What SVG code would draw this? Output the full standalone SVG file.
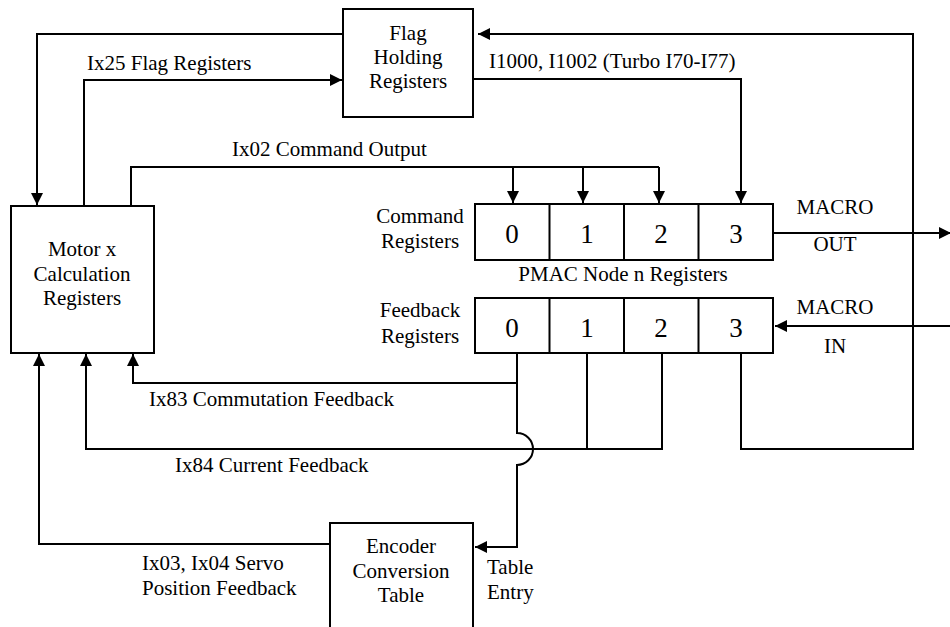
<svg xmlns="http://www.w3.org/2000/svg" width="950" height="627" viewBox="0 0 950 627">
<style>
  .box { fill: #fff; stroke: #000; stroke-width: 2; }
  .ln { fill: none; stroke: #000; stroke-width: 2; }
  .arr { marker-end: url(#ah); }
  text { font-family: "Liberation Serif", "Times New Roman", serif; font-size: 21px; fill: #000; }
  .c { text-anchor: middle; }
  .big { font-size: 27px; text-anchor: middle; }
</style>
<defs>
  <marker id="ah" viewBox="0 0 12 12" refX="12" refY="6" markerWidth="12" markerHeight="12" markerUnits="userSpaceOnUse" orient="auto">
    <path d="M0,0 L12,6 L0,12 z" fill="#000"/>
  </marker>
</defs>
<rect width="950" height="627" fill="#fff"/>

<g id="connectors">
  <path class="ln arr" d="M343,34 H37 V205"/>
  <path class="ln arr" d="M84,206 V80 H342"/>
  <path class="ln" d="M131,206 V167 H659"/>
  <path class="ln arr" d="M513,167 V203"/>
  <path class="ln arr" d="M583,167 V203"/>
  <path class="ln arr" d="M659,167 V203"/>
  <path class="ln arr" d="M473,79 H741 V203"/>
  <path class="ln arr" d="M741,353 V449 H913 V34 H478"/>
  <path class="ln arr" d="M773,233 H951"/>
  <path class="ln arr" d="M951,326 H775"/>
  <path class="ln arr" d="M517,353 V383 H133 V354"/>
  <path class="ln arr" d="M517,383 V433 A16,16 0 0 1 517,465 V547 H475"/>
  <path class="ln" d="M587,353 V449"/>
  <path class="ln arr" d="M662,353 V449 H86 V354"/>
  <path class="ln arr" d="M330,544 H39 V354"/>
</g>

<g id="flag">
  <rect class="box" x="343" y="9" width="130" height="108"/>
  <text class="c" x="408" y="40">Flag</text>
  <text class="c" x="408" y="64">Holding</text>
  <text class="c" x="408" y="88">Registers</text>
</g>

<g id="motor">
  <rect class="box" x="11" y="206" width="143" height="147"/>
  <text class="c" x="82" y="256">Motor x</text>
  <text class="c" x="82" y="281">Calculation</text>
  <text class="c" x="82" y="305">Registers</text>
</g>

<g id="command-registers">
  <rect class="box" x="475" y="204" width="298" height="56"/>
  <path class="ln" d="M549.5,204 V260 M624,204 V260 M698.5,204 V260"/>
  <text class="big" x="512" y="243">0</text>
  <text class="big" x="587" y="243">1</text>
  <text class="big" x="661" y="243">2</text>
  <text class="big" x="736" y="243">3</text>
</g>

<g id="feedback-registers">
  <rect class="box" x="475" y="298" width="298" height="55"/>
  <path class="ln" d="M549.5,298 V353 M624,298 V353 M698.5,298 V353"/>
  <text class="big" x="512" y="337">0</text>
  <text class="big" x="587" y="337">1</text>
  <text class="big" x="661" y="337">2</text>
  <text class="big" x="736" y="337">3</text>
</g>

<g id="encoder">
  <rect class="box" x="330" y="523" width="143" height="120"/>
  <text class="c" x="401" y="553">Encoder</text>
  <text class="c" x="401" y="578">Conversion</text>
  <text class="c" x="401" y="602">Table</text>
</g>

<g id="labels">
  <text x="87" y="70">Ix25 Flag Registers</text>
  <text x="232" y="156">Ix02 Command Output</text>
  <text x="489" y="68">I1000, I1002 (Turbo I70-I77)</text>
  <text class="c" x="420" y="223">Command</text>
  <text class="c" x="420" y="248">Registers</text>
  <text class="c" x="420" y="317">Feedback</text>
  <text class="c" x="420" y="343">Registers</text>
  <text class="c" x="623" y="281">PMAC Node n Registers</text>
  <text class="c" x="835" y="214">MACRO</text>
  <text class="c" x="835" y="251">OUT</text>
  <text class="c" x="835" y="314">MACRO</text>
  <text class="c" x="835" y="353">IN</text>
  <text x="149" y="406">Ix83 Commutation Feedback</text>
  <text x="175" y="472">Ix84 Current Feedback</text>
  <text x="142" y="570">Ix03, Ix04 Servo</text>
  <text x="142" y="595">Position Feedback</text>
  <text x="487" y="574">Table</text>
  <text x="487" y="599">Entry</text>
</g>
</svg>
